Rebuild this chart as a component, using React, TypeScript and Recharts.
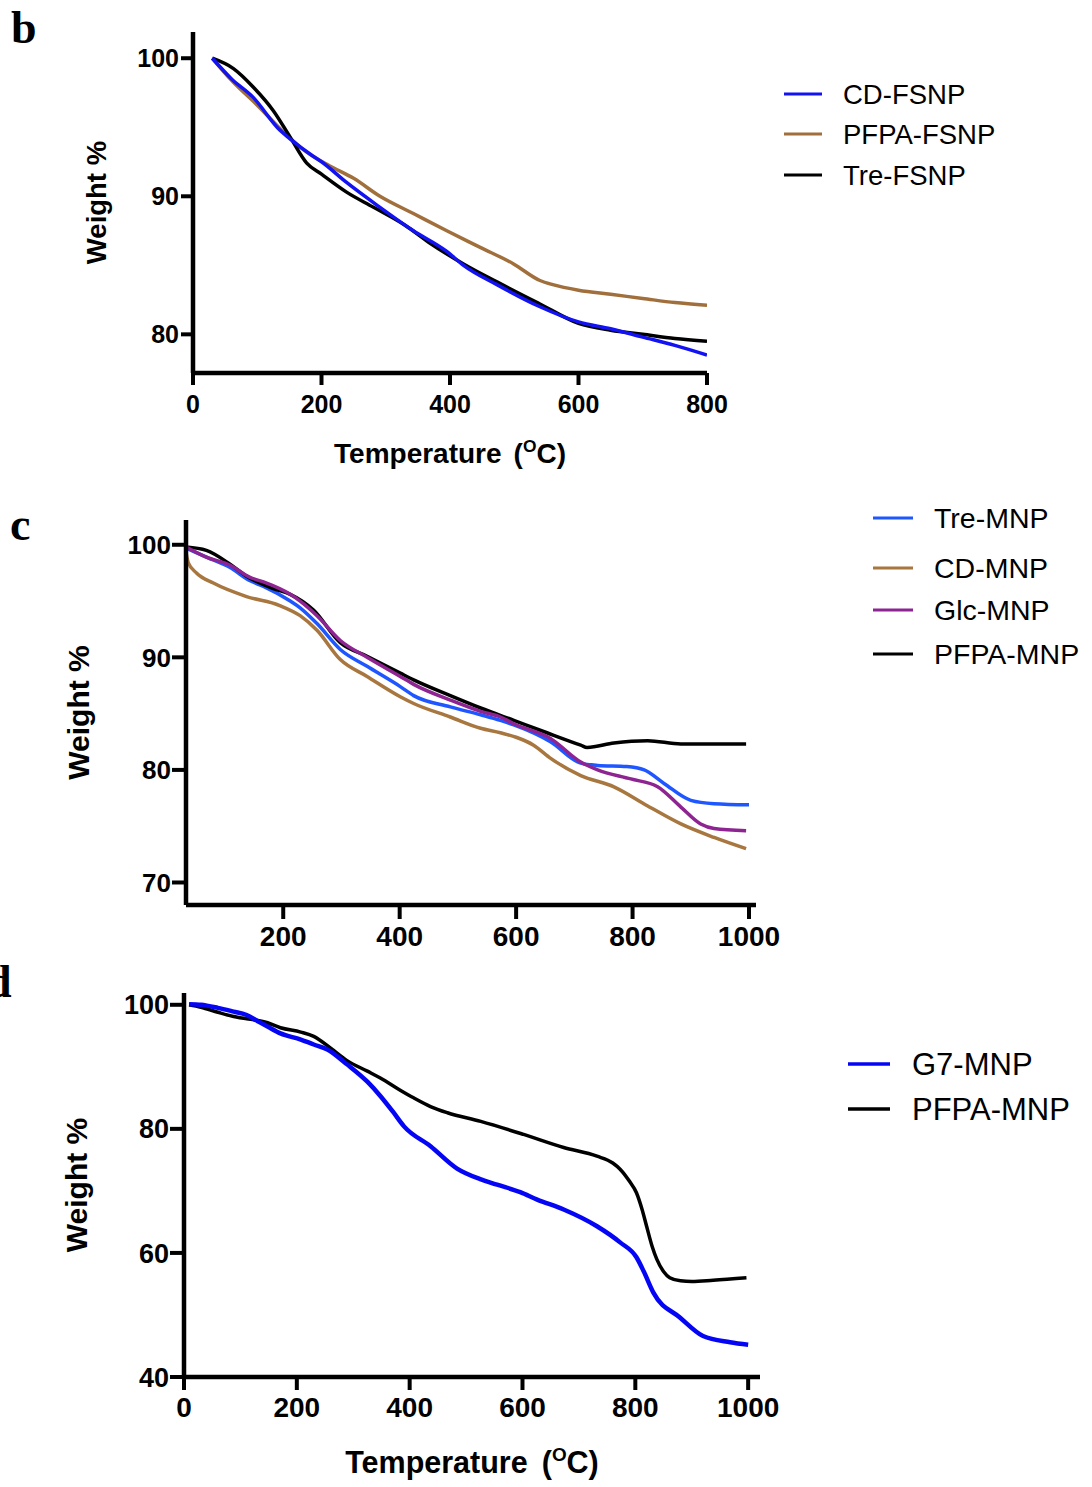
import React from 'react';
import { LineChart, Line, XAxis, YAxis, Label } from 'recharts';

// ---------- Panel b data (FSNP) ----------
const bXTicks = [0, 200, 400, 600, 800];
const bYTicks = [80, 90, 100];
const bCdT = [30, 60, 93, 135, 150, 187, 200, 239, 291, 343, 395, 421, 473, 540, 600, 650, 700, 750, 800];
const bCdW = [100, 98.5, 97.2, 94.8, 94.2, 92.9, 92.5, 91.0, 89.2, 87.5, 86.0, 85.0, 83.6, 82.0, 80.9, 80.4, 79.8, 79.2, 78.5];
const bTreT = [30, 63, 94, 125, 151, 177, 200, 239, 281, 330, 369, 421, 473, 540, 600, 650, 700, 750, 800];
const bTreW = [100, 99.25, 97.9, 96.2, 94.3, 92.4, 91.6, 90.3, 89.2, 87.9, 86.6, 85.1, 83.8, 82.2, 80.8, 80.3, 80.0, 79.7, 79.5];
const bPfpaT = [30, 60, 100, 140, 177, 213, 250, 291, 343, 395, 447, 499, 540, 560, 600, 650, 700, 750, 800];
const bPfpaW = [100, 98.4, 96.6, 94.7, 93.2, 92.2, 91.3, 90.0, 88.75, 87.5, 86.3, 85.1, 83.9, 83.6, 83.2, 82.9, 82.6, 82.3, 82.1];

// ---------- Panel c data (MNP) ----------
const cXTicks = [200, 400, 600, 800, 1000];
const cYTicks = [70, 80, 90, 100];
const cTreT = [33, 68, 108, 143, 166, 212, 229, 258, 298, 344, 401, 424, 487, 539, 573, 596, 659, 711, 740, 790, 820, 854, 900, 940, 1000];
const cTreW = [99.7, 98.9, 98.0, 96.8, 96.3, 95.0, 94.4, 93.0, 90.7, 89.2, 87.4, 86.6, 85.6, 84.9, 84.4, 84.0, 82.5, 80.6, 80.4, 80.3, 80.0, 78.8, 77.3, 77.0, 76.9];
const cCdT = [33, 37, 51, 80, 137, 194, 229, 258, 298, 344, 401, 424, 487, 539, 573, 600, 630, 660, 711, 768, 826, 883, 940, 995];
const cCdW = [99.3, 98.4, 97.5, 96.6, 95.4, 94.6, 93.7, 92.4, 89.8, 88.3, 86.5, 85.9, 84.7, 83.7, 83.3, 82.9, 82.2, 81.0, 79.5, 78.5, 76.8, 75.2, 74.0, 73.0];
const cGlcT = [33, 68, 108, 143, 166, 212, 229, 258, 298, 344, 401, 424, 487, 539, 573, 596, 659, 711, 740, 797, 843, 883, 917, 940, 995];
const cGlcW = [99.8, 98.9, 98.2, 97.1, 96.7, 95.6, 95.0, 93.7, 91.5, 90.0, 88.3, 87.6, 86.2, 85.2, 84.7, 84.1, 82.8, 80.7, 80.0, 79.2, 78.5, 76.7, 75.2, 74.8, 74.6];
const cPfpaT = [33, 68, 108, 137, 183, 212, 252, 298, 344, 401, 424, 487, 539, 596, 653, 711, 722, 768, 826, 883, 940, 995];
const cPfpaW = [99.8, 99.5, 98.3, 97.2, 96.1, 95.6, 94.2, 91.3, 90.1, 88.6, 88.0, 86.6, 85.5, 84.4, 83.3, 82.2, 82.0, 82.4, 82.6, 82.3, 82.3, 82.3];

// ---------- Panel d data ----------
const dXTicks = [0, 200, 400, 600, 800, 1000];
const dYTicks = [40, 60, 80, 100];
const dG7T = [9, 30, 60, 88, 110, 130, 148, 171, 207, 230, 254, 289, 325, 348, 370, 390, 437, 484, 525, 555, 596, 626, 673, 732, 773, 802, 815, 832, 879, 920, 968, 1000];
const dG7W = [100.1, 100, 99.5, 98.9, 98.4, 97.4, 96.5, 95.4, 94.4, 93.6, 92.8, 90.4, 87.6, 85.3, 82.8, 80.4, 77.2, 73.6, 71.9, 71.0, 69.8, 68.6, 67.0, 64.3, 61.7, 59.3, 57.0, 53.6, 49.6, 46.6, 45.6, 45.2];
const dPfpaT = [9, 30, 60, 88, 148, 171, 207, 230, 260, 289, 325, 348, 384, 407, 437, 467, 526, 602, 673, 732, 760, 773, 790, 802, 812, 820, 830, 838, 850, 861, 880, 900, 938, 997];
const dPfpaW = [100, 99.6, 98.8, 98.1, 97.1, 96.3, 95.6, 94.9, 93.0, 91.0, 89.3, 88.2, 86.2, 85.0, 83.6, 82.6, 81.2, 79.1, 77.0, 75.6, 74.5, 73.5, 71.5, 69.7, 67.0, 64.3, 61.0, 59.0, 57.0, 56.0, 55.5, 55.4, 55.6, 56.0];

const zip = (t: number[], w: number[]) => t.map((x, i) => ({ t: x, w: w[i] }));

const FONT = "'Liberation Sans', Arial, Helvetica, sans-serif";
const SERIF = "'Liberation Serif', 'Times New Roman', Times, serif";

const BLUE_B = '#1212f2';
const BROWN_B = '#a06f3c';
const BLUE_C = '#1e56ff';
const BROWN_C = '#a8763f';
const PURPLE_C = '#8e2491';
const BLUE_D = '#0505f5';
const BLACK = '#000000';

const AX = { stroke: '#000', strokeWidth: 4.5 };
const TL = { stroke: '#000', strokeWidth: 4 };

const tickStyle = (size: number) => ({ fill: '#000', fontSize: size, fontWeight: 700, fontFamily: FONT });

function XTitle(props: any) {
  const { viewBox, dy, size, gap } = props;
  const x = viewBox.x + viewBox.width / 2;
  const y = viewBox.y + dy;
  return (
    <text x={x} y={y} textAnchor="middle" fontFamily={FONT} fontWeight={700} fontSize={size} fill="#000">
      <tspan>Temperature</tspan>
      <tspan dx={gap}>(</tspan>
      <tspan dy={-size * 0.38} fontSize={size * 0.62}>O</tspan>
      <tspan dy={size * 0.38}>C)</tspan>
    </text>
  );
}

function YTitle(props: any) {
  const { viewBox, bx, size } = props;
  const x = viewBox.x + bx;
  const y = viewBox.y + viewBox.height / 2;
  return (
    <text x={x} y={y} transform={`rotate(-90 ${x} ${y})`} textAnchor="middle" fontFamily={FONT} fontWeight={700} fontSize={size} fill="#000">
      Weight %
    </text>
  );
}

type LegendItem = { name: string; color: string };

function LegendSvg({ items, rows, lineLen, textX, size, width, height, left, top, lw }: any) {
  return (
    <svg width={width} height={height} style={{ position: 'absolute', left, top, overflow: 'visible' }}>
      {(items as LegendItem[]).map((it, i) => (
        <g key={it.name}>
          <line x1={0} x2={lineLen} y1={rows[i]} y2={rows[i]} stroke={it.color} strokeWidth={lw} />
          <text x={textX} y={rows[i]} dominantBaseline="central" fontFamily={FONT} fontSize={size} fill="#000">
            {it.name}
          </text>
        </g>
      ))}
    </svg>
  );
}

const bLegend: LegendItem[] = [
  { name: 'CD-FSNP', color: BLUE_B },
  { name: 'PFPA-FSNP', color: BROWN_B },
  { name: 'Tre-FSNP', color: BLACK },
];
const cLegend: LegendItem[] = [
  { name: 'Tre-MNP', color: BLUE_C },
  { name: 'CD-MNP', color: BROWN_C },
  { name: 'Glc-MNP', color: PURPLE_C },
  { name: 'PFPA-MNP', color: BLACK },
];
const dLegend: LegendItem[] = [
  { name: 'G7-MNP', color: BLUE_D },
  { name: 'PFPA-MNP', color: BLACK },
];

export default function App() {
  return (
    <div style={{ position: 'absolute', left: 0, top: 0, width: 1092, height: 1487, background: '#fff', overflow: 'hidden' }}>
      {/* Panel b */}
      <div style={{ position: 'absolute', left: 0, top: 0 }}>
        <LineChart width={1092} height={490} margin={{ top: 32, right: 385, bottom: 0, left: 0 }}>
          <XAxis type="number" dataKey="t" domain={[0, 800]} ticks={bXTicks} interval={0} allowDataOverflow height={117}
            tickSize={12} tickMargin={10} axisLine={AX} tickLine={TL} tick={tickStyle(25)}>
            <Label content={(p: any) => <XTitle {...p} dy={90} size={28} gap={12} />} />
          </XAxis>
          <YAxis type="number" domain={[77.2, 101.9]} ticks={bYTicks} interval={0} allowDataOverflow width={193}
            tickSize={12} tickMargin={2} axisLine={AX} tickLine={TL} tick={tickStyle(25)}>
            <Label content={(p: any) => <YTitle {...p} bx={106} size={27.5} />} />
          </YAxis>
          <Line data={zip(bPfpaT, bPfpaW)} dataKey="w" type="monotone" stroke={BROWN_B} strokeWidth={3.5} dot={false} isAnimationActive={false} />
          <Line data={zip(bTreT, bTreW)} dataKey="w" type="monotone" stroke={BLACK} strokeWidth={3.5} dot={false} isAnimationActive={false} />
          <Line data={zip(bCdT, bCdW)} dataKey="w" type="monotone" stroke={BLUE_B} strokeWidth={3.5} dot={false} isAnimationActive={false} />
        </LineChart>
      </div>
      <LegendSvg items={bLegend} rows={[24, 64, 105]} lineLen={38} textX={59} size={27.5} width={300} height={130} left={784} top={70} lw={3} />

      {/* Panel c */}
      <div style={{ position: 'absolute', left: 0, top: 490 }}>
        <LineChart width={1092} height={470} margin={{ top: 30, right: 336, bottom: 0, left: 0 }}>
          <XAxis type="number" dataKey="t" domain={[33, 1012]} ticks={cXTicks} interval={0} allowDataOverflow height={55}
            tickSize={14} tickMargin={7} axisLine={AX} tickLine={TL} tick={tickStyle(28)} />
          <YAxis type="number" domain={[68, 102.2]} ticks={cYTicks} interval={0} allowDataOverflow width={186}
            tickSize={14} tickMargin={1} axisLine={AX} tickLine={TL} tick={tickStyle(26)}>
            <Label content={(p: any) => <YTitle {...p} bx={88.5} size={30} />} />
          </YAxis>
          <Line data={zip(cCdT, cCdW)} dataKey="w" type="monotone" stroke={BROWN_C} strokeWidth={3.5} dot={false} isAnimationActive={false} />
          <Line data={zip(cTreT, cTreW)} dataKey="w" type="monotone" stroke={BLUE_C} strokeWidth={3.5} dot={false} isAnimationActive={false} />
          <Line data={zip(cPfpaT, cPfpaW)} dataKey="w" type="monotone" stroke={BLACK} strokeWidth={3.5} dot={false} isAnimationActive={false} />
          <Line data={zip(cGlcT, cGlcW)} dataKey="w" type="monotone" stroke={PURPLE_C} strokeWidth={3.5} dot={false} isAnimationActive={false} />
        </LineChart>
      </div>
      <LegendSvg items={cLegend} rows={[18, 68, 110, 154]} lineLen={40} textX={61} size={28.5} width={230} height={180} left={873} top={500} lw={3} />

      {/* Panel d */}
      <div style={{ position: 'absolute', left: 0, top: 960 }}>
        <LineChart width={1092} height={527} margin={{ top: 33, right: 332, bottom: 0, left: 0 }}>
          <XAxis type="number" dataKey="t" domain={[0, 1021]} ticks={dXTicks} interval={0} allowDataOverflow height={110}
            tickSize={13} tickMargin={7} axisLine={AX} tickLine={TL} tick={tickStyle(28)}>
            <Label content={(p: any) => <XTitle {...p} dy={96} size={30.5} gap={14} />} />
          </XAxis>
          <YAxis type="number" domain={[40, 101.9]} ticks={dYTicks} interval={0} allowDataOverflow width={184}
            tickSize={14} tickMargin={1} axisLine={AX} tickLine={TL} tick={tickStyle(27)}>
            <Label content={(p: any) => <YTitle {...p} bx={86.5} size={30} />} />
          </YAxis>
          <Line data={zip(dPfpaT, dPfpaW)} dataKey="w" type="monotone" stroke={BLACK} strokeWidth={3.5} dot={false} isAnimationActive={false} />
          <Line data={zip(dG7T, dG7W)} dataKey="w" type="monotone" stroke={BLUE_D} strokeWidth={4.5} dot={false} isAnimationActive={false} />
        </LineChart>
      </div>
      <LegendSvg items={dLegend} rows={[24, 69]} lineLen={42} textX={64} size={31} width={240} height={100} left={848} top={1040} lw={3.5} />

      {/* Panel letters */}
      <svg width={1092} height={1487} style={{ position: 'absolute', left: 0, top: 0, pointerEvents: 'none' }}>
        <text x={11} y={43} fontFamily={SERIF} fontWeight={700} fontSize={46} fill="#000">b</text>
        <text x={10} y={540} fontFamily={SERIF} fontWeight={700} fontSize={46} fill="#000">c</text>
        <text x={-14} y={997} fontFamily={SERIF} fontWeight={700} fontSize={46} fill="#000">d</text>
      </svg>
    </div>
  );
}
